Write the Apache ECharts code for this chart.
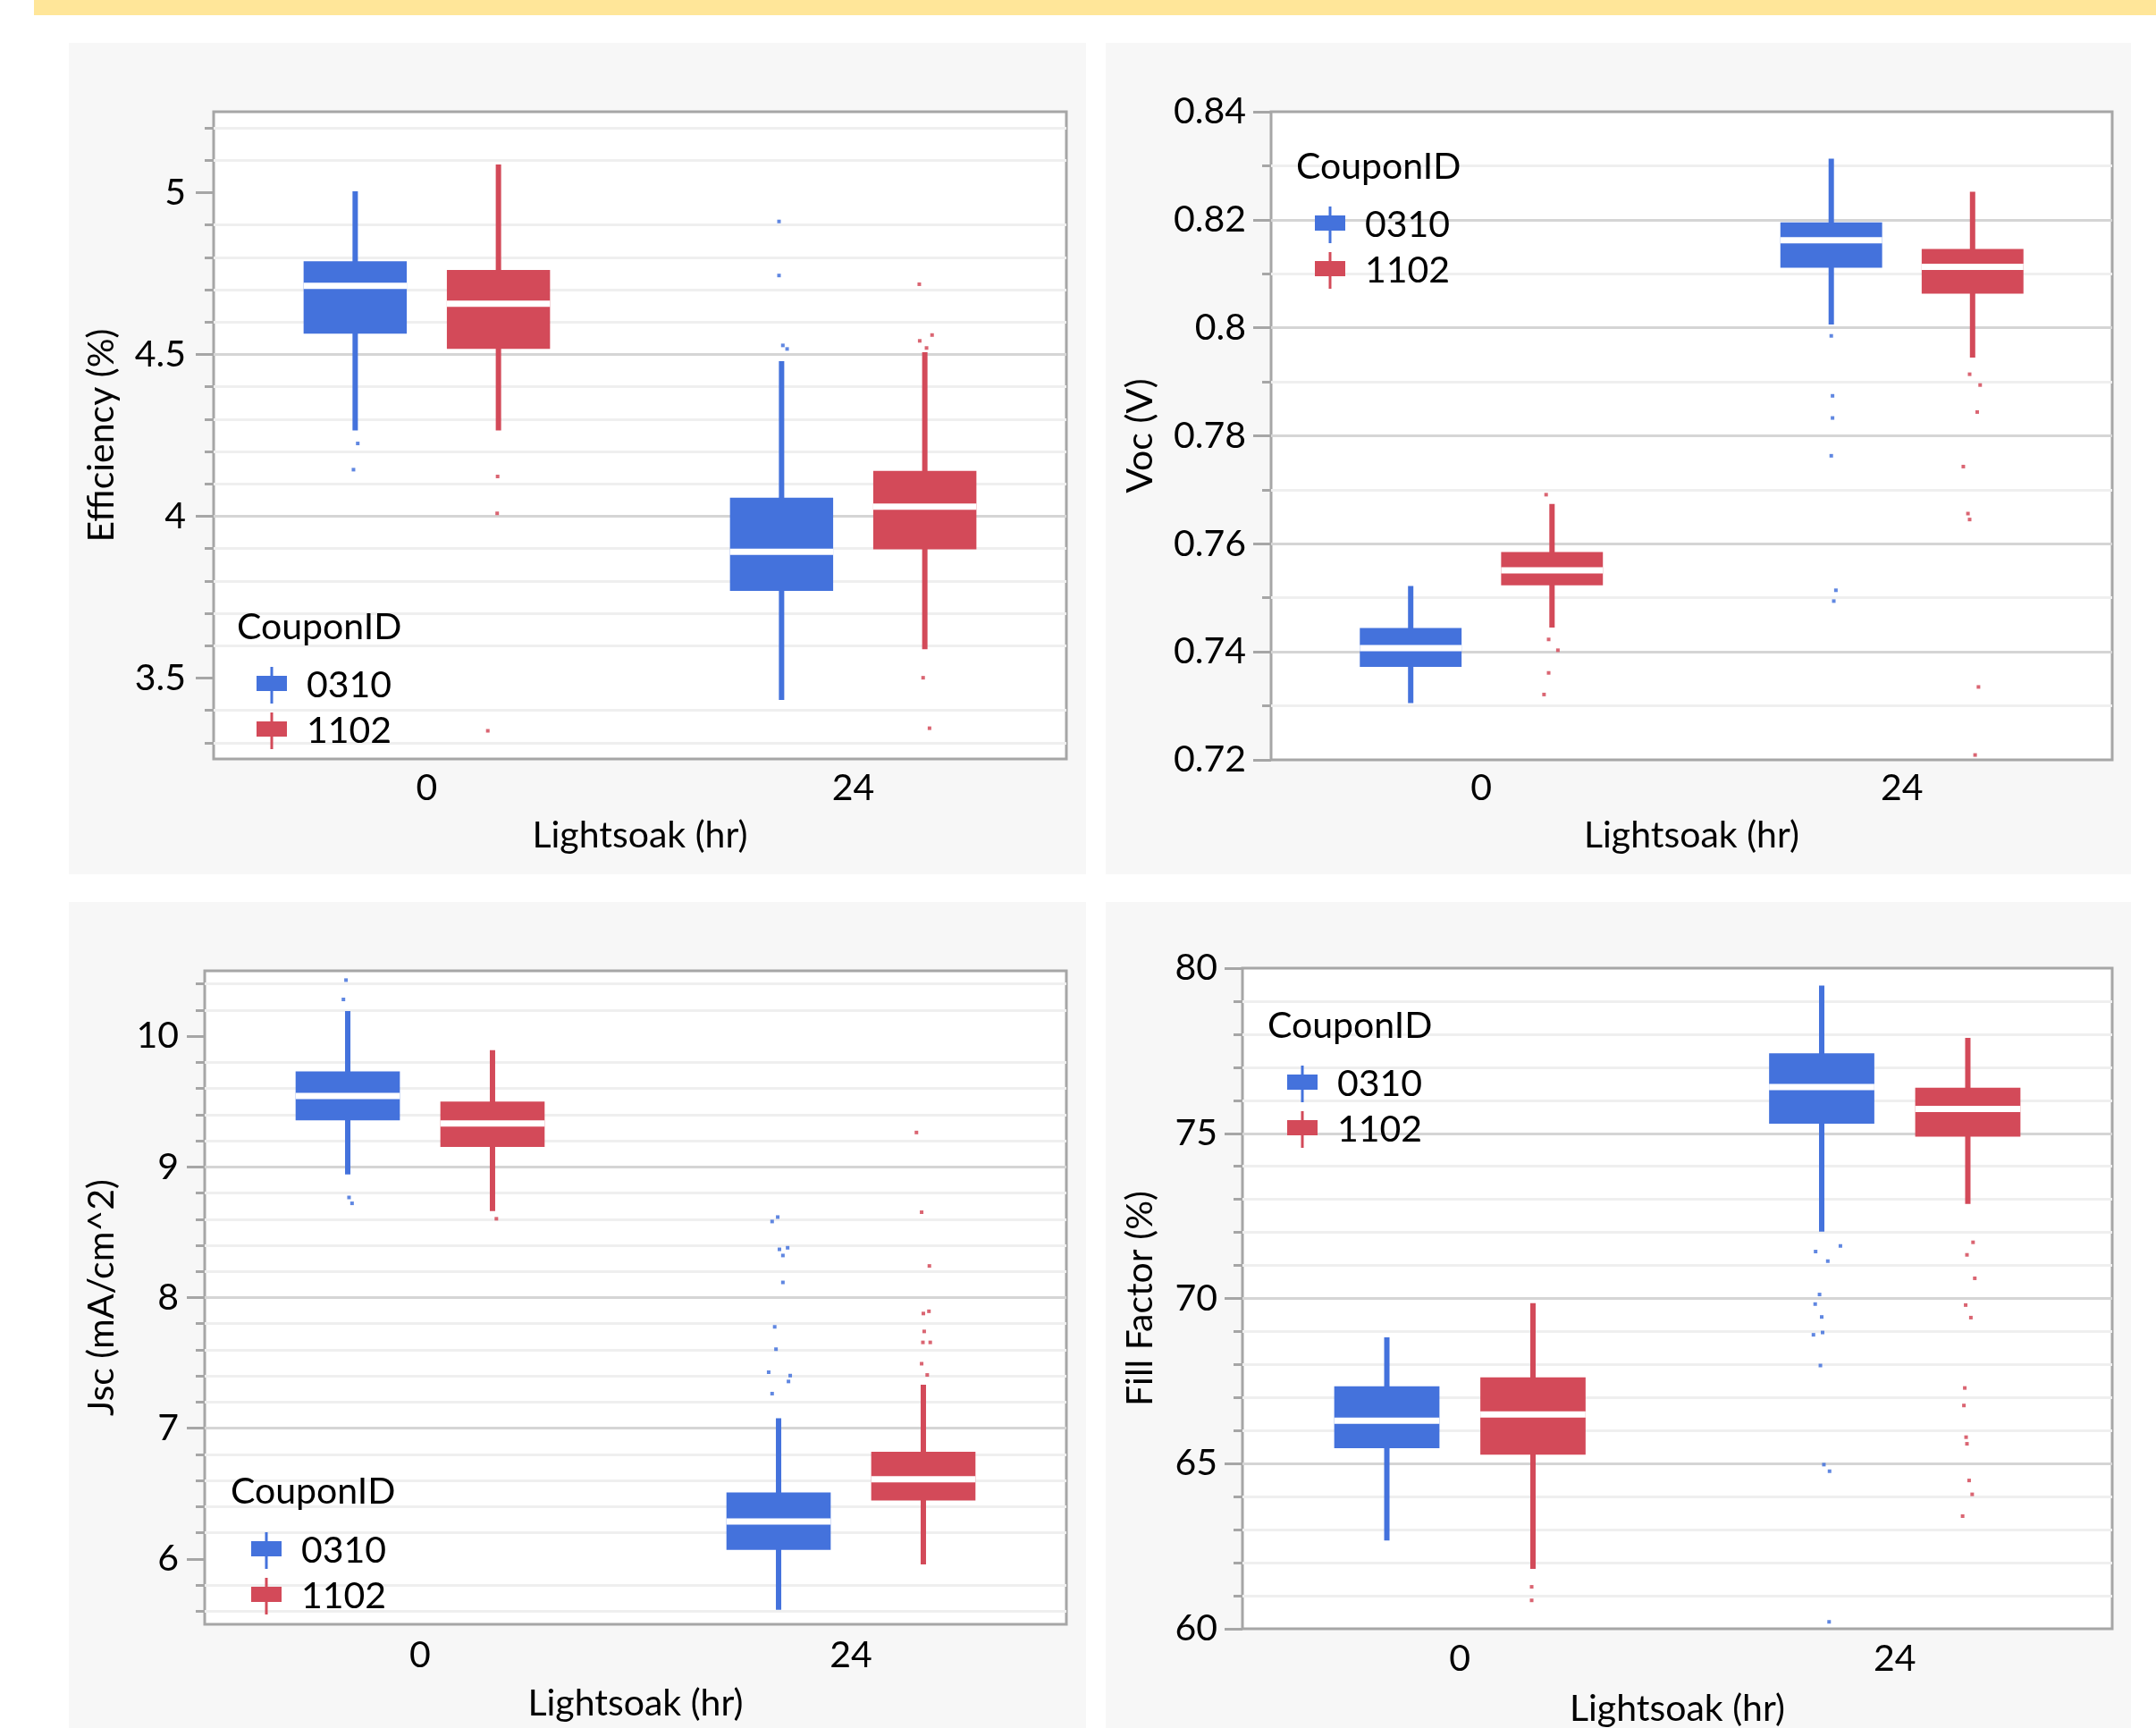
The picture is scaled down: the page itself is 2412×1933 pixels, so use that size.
<!DOCTYPE html>
<html><head><meta charset="utf-8">
<script src="https://cdn.jsdelivr.net/npm/echarts@6/dist/echarts.min.js"></script>
<style>html,body{margin:0;padding:0;background:#fff;}#c{width:2412px;height:1933px;}</style>
</head><body><div id="c"></div>
<script>
// ---------------- data ----------------
const categories = ['0', '24'];
const coupons = ['0310', '1102'];
const colors = ['#4472dc', '#d34a59'];

// box rows: [category index, lower whisker, Q1, median, Q3, upper whisker]
const effBox0310 = [[0, 4.265, 4.564, 4.712, 4.788, 5.004], [1, 3.432, 3.769, 3.890, 4.057, 4.479]];
const effBox1102 = [[0, 4.265, 4.517, 4.657, 4.761, 5.087], [1, 3.589, 3.898, 4.030, 4.140, 4.507]];
const vocBox0310 = [[0, 0.7305, 0.7372, 0.7407, 0.7444, 0.7522], [1, 0.8006, 0.8111, 0.8162, 0.8195, 0.8313]];
const vocBox1102 = [[0, 0.7445, 0.7523, 0.7551, 0.7585, 0.7674], [1, 0.7945, 0.8063, 0.8113, 0.8146, 0.8252]];
const jscBox0310 = [[0, 8.943, 9.356, 9.543, 9.730, 10.193], [1, 5.611, 6.070, 6.286, 6.509, 7.077]];
const jscBox1102 = [[0, 8.662, 9.152, 9.332, 9.499, 9.893], [1, 5.959, 6.447, 6.609, 6.820, 7.333]];
const ffBox0310 = [[0, 62.67, 65.47, 66.30, 67.34, 68.82], [1, 72.02, 75.29, 76.40, 77.42, 79.47]];
const ffBox1102 = [[0, 61.81, 65.27, 66.49, 67.61, 69.86], [1, 72.86, 74.90, 75.74, 76.38, 77.89]];

// outliers: [category index, value]; jitter: horizontal jitter (fraction of band)
const effOut0310 = [[0, 4.225], [0, 4.144], [1, 4.911], [1, 4.744], [1, 4.528], [1, 4.517]];
const effJit0310 = [0.006, -0.004, -0.006, -0.006, 0.003, 0.013];
const effOut1102 = [[0, 4.123], [0, 4.009], [0, 3.337], [1, 4.717], [1, 4.560], [1, 4.542], [1, 4.520], [1, 3.501], [1, 3.345]];
const effJit1102 = [-0.002, -0.003, -0.025, -0.013, 0.017, -0.012, 0.004, -0.004, 0.011];

const vocOut0310 = [[1, 0.7985], [1, 0.7874], [1, 0.7833], [1, 0.7763], [1, 0.7514], [1, 0.7494]];
const vocJit0310 = [0, 0.003, 0.003, 0, 0.011, 0.006];
const vocOut1102 = [[0, 0.7691], [0, 0.7423], [0, 0.7403], [0, 0.7361], [0, 0.7321],
  [1, 0.7914], [1, 0.7894], [1, 0.7844], [1, 0.7743], [1, 0.7656], [1, 0.7645], [1, 0.7335], [1, 0.7209]];
const vocJit1102 = [-0.014, -0.008, 0.014, -0.008, -0.019, -0.007, 0.018, 0.011, -0.022, -0.011, -0.007, 0.014, 0.006];

const jscOut0310 = [[0, 10.429], [0, 10.281], [0, 8.766], [0, 8.721],
  [1, 8.616], [1, 8.582], [1, 8.381], [1, 8.369], [1, 8.322], [1, 8.116], [1, 7.776], [1, 7.605], [1, 7.429], [1, 7.403], [1, 7.358], [1, 7.265]];
const jscJit0310 = [-0.004, -0.010, 0.003, 0.010, -0.002, -0.015, 0.021, 0.002, 0.010, 0.010, -0.009, -0.006, -0.023, 0.027, 0.023, -0.015];
const jscOut1102 = [[0, 8.603], [1, 9.263], [1, 8.653], [1, 8.242], [1, 7.895], [1, 7.878], [1, 7.741], [1, 7.657], [1, 7.657], [1, 7.494], [1, 7.408]];
const jscJit1102 = [0.009, -0.016, -0.004, 0.014, 0.013, 0, 0.002, -0.001, 0.016, -0.004, 0.009];

const ffOut0310 = [[1, 71.59], [1, 71.42], [1, 71.13], [1, 70.12], [1, 69.83], [1, 69.44], [1, 68.97], [1, 68.90], [1, 67.97], [1, 64.97], [1, 64.77], [1, 60.21]];
const ffJit0310 = [0.043, -0.014, 0.014, -0.005, -0.015, 0, 0.002, -0.019, -0.003, 0.005, 0.018, 0.017];
const ffOut1102 = [[0, 61.27], [0, 60.86],
  [1, 71.70], [1, 71.32], [1, 70.61], [1, 69.80], [1, 69.42], [1, 67.29], [1, 66.76], [1, 65.80], [1, 65.60], [1, 64.49], [1, 64.07], [1, 63.41]];
const ffJit1102 = [-0.003, -0.003, 0.012, -0.002, 0.016, -0.005, 0.007, -0.007, -0.009, -0.004, -0.002, 0.003, 0.010, -0.012];

// axis tick labels
const effTicks = [3.5, 4, 4.5, 5];
const jscTicks = [6, 7, 8, 9, 10];

// ---------------- layout / style ----------------
const FONT = 'Lato';
const FS = 41;
const OFFSET = [-0.168, 0.168];
const BOX_W = 0.242;

const panels = [
  {grid: {left: 239, top: 125, width: 954, height: 724}, name: 'Efficiency (%)', nameGap: 105, labelMargin: 31,
   y: {min: 3.25, max: 5.25, minInterval: 0.5, maxInterval: 0.5, splitNumber: 4, minor: 5, custom: effTicks},
   boxes: [effBox0310, effBox1102], outs: [effOut0310, effOut1102], jit: [effJit0310, effJit1102],
   legend: {left: 287, top: 746}, title: {x: 265, y: 702}, xNameGap: 65, xMargin: 12},
  {grid: {left: 1422, top: 125, width: 941, height: 725}, name: 'Voc (V)', nameGap: 126, labelMargin: 28,
   y: {min: 0.72, max: 0.84, interval: 0.02, minor: 2},
   boxes: [vocBox0310, vocBox1102], outs: [vocOut0310, vocOut1102], jit: [vocJit0310, vocJit1102],
   legend: {left: 1471, top: 231}, title: {x: 1450, y: 187}, xNameGap: 64, xMargin: 11},
  {grid: {left: 229, top: 1086, width: 964, height: 731}, name: 'Jsc (mA/cm^2)', nameGap: 95, labelMargin: 29,
   y: {min: 5.5, max: 10.5, minInterval: 1, maxInterval: 1, splitNumber: 5, minor: 5, custom: jscTicks},
   boxes: [jscBox0310, jscBox1102], outs: [jscOut0310, jscOut1102], jit: [jscJit0310, jscJit1102],
   legend: {left: 281, top: 1714}, title: {x: 258, y: 1669}, xNameGap: 68, xMargin: 14},
  {grid: {left: 1390, top: 1083, width: 973, height: 739}, name: 'Fill Factor (%)', nameGap: 94, labelMargin: 28,
   y: {min: 60, max: 80, interval: 5, minor: 5},
   boxes: [ffBox0310, ffBox1102], outs: [ffOut0310, ffOut1102], jit: [ffJit0310, ffJit1102],
   legend: {left: 1440, top: 1192}, title: {x: 1418, y: 1148}, xNameGap: 69, xMargin: 13}
];

function boxRender(gi) {
  return function (params, api) {
    const cat = api.value(0);
    const band = api.size([1, 0])[0];
    const m = api.coord([cat, api.value(3)]);
    const cx = m[0] + OFFSET[gi] * band;
    const yLo = api.coord([cat, api.value(1)])[1];
    const yQ1 = api.coord([cat, api.value(2)])[1];
    const yQ3 = api.coord([cat, api.value(4)])[1];
    const yHi = api.coord([cat, api.value(5)])[1];
    const hw = BOX_W * band / 2;
    const col = api.visual('color');
    return {type: 'group', children: [
      {type: 'rect', shape: {x: cx - 3, y: yHi, width: 6, height: yLo - yHi}, style: {fill: col}},
      {type: 'rect', shape: {x: cx - hw, y: yQ3, width: hw * 2, height: yQ1 - yQ3}, style: {fill: col}},
      {type: 'rect', shape: {x: cx - hw, y: m[1] - 3.5, width: hw * 2, height: 7}, style: {fill: '#ffffff'}}
    ]};
  };
}
function outRender(gi) {
  return function (params, api) {
    const cat = api.value(0);
    const band = api.size([1, 0])[0];
    const p = api.coord([cat, api.value(1)]);
    const cx = p[0] + (OFFSET[gi] + api.value(2)) * band;
    return {type: 'rect', shape: {x: cx - 2, y: p[1] - 2, width: 4, height: 4},
      style: {fill: api.visual('color'), opacity: 0.85}};
  };
}

const textBase = {fontFamily: FONT, fontSize: FS, color: '#000'};
const grids = [], xAxes = [], yAxes = [], series = [], legends = [], graphics = [];

// background strip & panels
graphics.push({type: 'rect', z: -10, shape: {x: 38, y: 0, width: 2374, height: 17}, style: {fill: '#ffe699'}});
[[77, 48, 1138, 930], [1237, 48, 1147, 930], [77, 1009, 1138, 924], [1237, 1009, 1147, 924]].forEach(r => {
  graphics.push({type: 'rect', z: -10, shape: {x: r[0], y: r[1], width: r[2], height: r[3]}, style: {fill: '#f7f7f7'}});
});

panels.forEach((p, g) => {
  grids.push(Object.assign({show: true, backgroundColor: '#ffffff', borderColor: '#a6a6a6', borderWidth: 3, containLabel: false}, p.grid));
  xAxes.push({
    type: 'category', gridIndex: g, data: categories,
    axisLine: {show: false}, axisTick: {show: false},
    axisLabel: Object.assign({margin: p.xMargin}, textBase),
    splitLine: {show: false},
    name: 'Lightsoak (hr)', nameLocation: 'middle', nameGap: p.xNameGap,
    nameTextStyle: Object.assign({}, textBase)
  });
  const y = {
    type: 'value', gridIndex: g, min: p.y.min, max: p.y.max,
    axisLine: {show: false},
    axisTick: {show: true, length: 20, lineStyle: {color: '#a6a6a6', width: 3}},
    axisLabel: Object.assign({margin: p.labelMargin}, textBase),
    minorTick: {show: true, splitNumber: p.y.minor, length: 10, lineStyle: {color: '#a6a6a6', width: 3}},
    splitLine: {show: true, showMinLine: false, showMaxLine: false, lineStyle: {color: '#d5d5d5', width: 3}},
    minorSplitLine: {show: true, lineStyle: {color: '#efefef', width: 3}},
    name: p.name, nameLocation: 'middle', nameGap: p.nameGap, nameRotate: 90,
    nameTextStyle: Object.assign({}, textBase)
  };
  if (p.y.interval != null) y.interval = p.y.interval;
  else { y.minInterval = p.y.minInterval; y.maxInterval = p.y.maxInterval; y.splitNumber = p.y.splitNumber; }
  if (p.y.custom) { y.axisTick.customValues = p.y.custom; y.axisLabel.customValues = p.y.custom; }
  yAxes.push(y);

  coupons.forEach((cp, gi) => {
    series.push({
      type: 'custom', name: cp, xAxisIndex: g, yAxisIndex: g,
      itemStyle: {color: colors[gi]},
      encode: {x: 0, y: [1, 2, 3, 4, 5]},
      renderItem: boxRender(gi), data: p.boxes[gi], z: 3
    });
    series.push({
      type: 'custom', name: cp, xAxisIndex: g, yAxisIndex: g,
      itemStyle: {color: colors[gi]},
      encode: {x: 0, y: 1},
      renderItem: outRender(gi),
      data: p.outs[gi].map((o, i) => [o[0], o[1], p.jit[gi][i]]), z: 4
    });
  });

  legends.push({
    show: true, orient: 'vertical', left: p.legend.left, top: p.legend.top, padding: 0,
    itemWidth: 34, itemHeight: 41, itemGap: 10, selectedMode: false,
    icon: 'path://M0,10L34,10L34,27L0,27Z M15.5,0L18.5,0L18.5,41L15.5,41Z',
    data: coupons,
    textStyle: {fontFamily: FONT, fontSize: FS, color: '#000', padding: [0, 0, 0, 17], lineHeight: 41}
  });
  graphics.push({type: 'text', z: 10, x: p.title.x, y: p.title.y,
    style: {text: 'CouponID', font: FS + 'px ' + FONT, fill: '#000', verticalAlign: 'middle', align: 'left'}});
});

const chart = echarts.init(document.getElementById('c'), null, {renderer: 'canvas'});
chart.setOption({
  animation: false,
  backgroundColor: '#ffffff',
  grid: grids, xAxis: xAxes, yAxis: yAxes, series: series, legend: legends,
  graphic: {elements: graphics}
});
</script></body></html>
